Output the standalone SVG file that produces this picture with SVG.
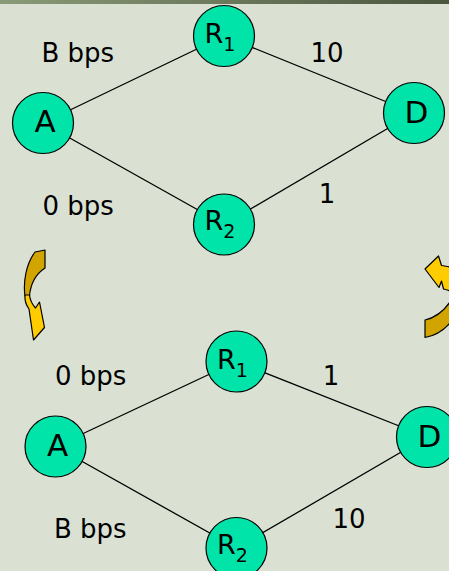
<svg xmlns="http://www.w3.org/2000/svg" width="449" height="571" viewBox="0 0 449 571">
<defs>
<linearGradient id="bar" x1="0" y1="0" x2="1" y2="0">
<stop offset="0" stop-color="#8A9B78"/>
<stop offset="1" stop-color="#4B553F"/>
</linearGradient>
<style>
.node{fill:#00E4AA;stroke:#000;stroke-width:1.2}
.lbl{font-family:"DejaVu Sans",Verdana,sans-serif;font-size:31px;fill:#000}
.rl{font-family:"DejaVu Sans",Verdana,sans-serif;font-size:27px;fill:#000}
.sub{font-size:19px}
.t{font-family:"DejaVu Sans",Verdana,sans-serif;font-size:26px;fill:#000}
.edge{stroke:#000;stroke-width:1.3;fill:none}
.dark{fill:#D1A400;stroke:#000;stroke-width:1.2;stroke-linejoin:round}
.bright{fill:#FFCC00;stroke:#000;stroke-width:1.2;stroke-linejoin:round}
</style>
</defs>
<rect width="449" height="571" fill="#DAE1D3"/>
<rect width="449" height="4" fill="url(#bar)"/>

<g id="connectors">
<line class="edge" x1="43" y1="123" x2="224" y2="36"/>
<line class="edge" x1="43" y1="123" x2="224" y2="224.5"/>
<line class="edge" x1="224" y1="36" x2="414" y2="113"/>
<line class="edge" x1="224" y1="224.5" x2="414" y2="113"/>
<line class="edge" x1="55.5" y1="446.5" x2="236.5" y2="361.5"/>
<line class="edge" x1="55.5" y1="446.5" x2="236.5" y2="548"/>
<line class="edge" x1="236.5" y1="361.5" x2="427" y2="437"/>
<line class="edge" x1="236.5" y1="548" x2="427" y2="437"/>
</g>

<g id="labels">
<text class="t" x="41.5" y="62">B bps</text>
<text class="t" x="327" y="62" text-anchor="middle">10</text>
<text class="t" x="42.5" y="215">0 bps</text>
<text class="t" x="327" y="203" text-anchor="middle">1</text>
<text class="t" x="55" y="385">0 bps</text>
<text class="t" x="331" y="385" text-anchor="middle">1</text>
<text class="t" x="54" y="537.5">B bps</text>
<text class="t" x="349" y="527.5" text-anchor="middle">10</text>
</g>

<g id="top-A"><circle class="node" cx="43" cy="123" r="30.5"/><text class="lbl" x="45" y="132" text-anchor="middle">A</text></g>
<g id="top-R1"><circle class="node" cx="224" cy="36" r="30.5"/><text class="rl" x="204.5" y="43">R<tspan class="sub" dy="8">1</tspan></text></g>
<g id="top-R2"><circle class="node" cx="224" cy="224.5" r="30.5"/><text class="rl" x="204.5" y="229.5">R<tspan class="sub" dy="8">2</tspan></text></g>
<g id="top-D"><circle class="node" cx="414" cy="113" r="30.5"/><text class="lbl" x="404.5" y="123">D</text></g>

<g id="bottom-A"><circle class="node" cx="55.5" cy="446.5" r="30.5"/><text class="lbl" x="57.5" y="456" text-anchor="middle">A</text></g>
<g id="bottom-R1"><circle class="node" cx="236.5" cy="361.5" r="30.5"/><text class="rl" x="217" y="368.5">R<tspan class="sub" dy="8">1</tspan></text></g>
<g id="bottom-R2"><circle class="node" cx="236.5" cy="548" r="30.5"/><text class="rl" x="217" y="553.5">R<tspan class="sub" dy="8">2</tspan></text></g>
<g id="bottom-D"><circle class="node" cx="427" cy="437" r="30.5"/><text class="lbl" x="417.5" y="447">D</text></g>

<g id="arrow-left">
<path class="dark" d="M35,252 L45,250 L45,268 C36,274 30.5,284 29.5,296 L25,296 C23,282 26,264 35,252 Z"/>
<path class="bright" d="M25,295 C24.5,301 26,305 29,309 L33.5,340 L44.5,327.5 L39.5,302 L35.5,308 C32,304 30,300 29.5,295 Z"/>
</g>
<g id="arrow-right">
<path class="bright" d="M425,269 L438.5,256 L441.5,265.5 C444.5,266 447,266.5 450,267 L450,291 C447.5,290 445.5,289.5 443.5,289 L441.5,281 L439,287.5 Z"/>
<path class="dark" d="M425,320 C434,318 443,312 450,302 L450,323 C443,331 434,336 425,337.5 Z"/>
</g>
</svg>
